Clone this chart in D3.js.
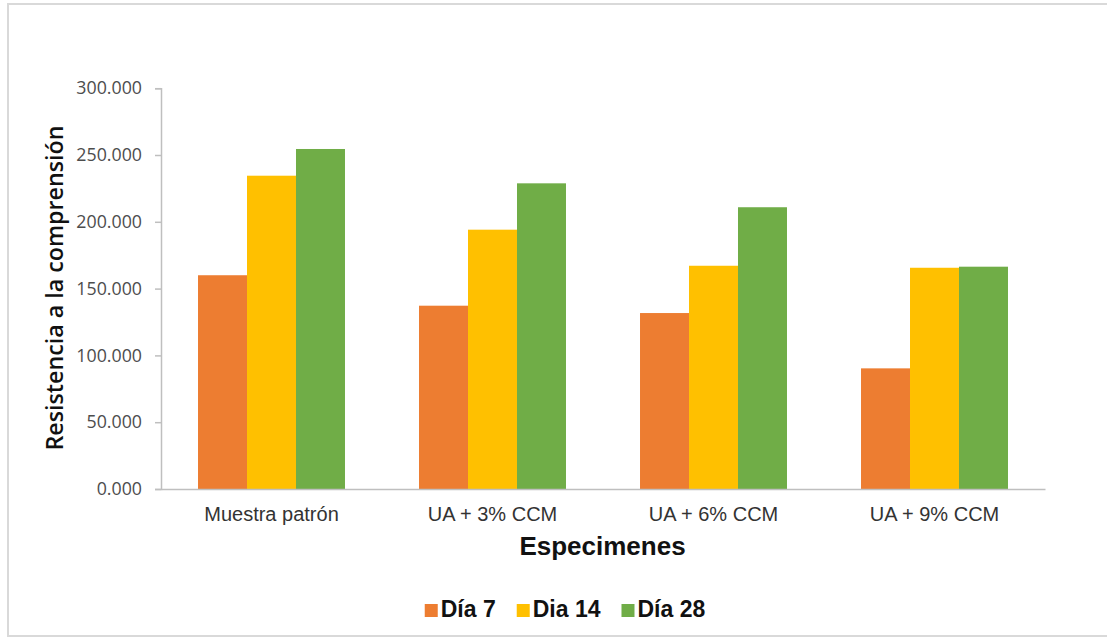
<!DOCTYPE html>
<html>
<head>
<meta charset="utf-8">
<script src="https://cdn.jsdelivr.net/npm/d3@7"></script>
<style>
  html, body { margin: 0; padding: 0; background: #fff; }
  svg { display: block; }
</style>
</head>
<body>
<svg id="chart" width="1107" height="638"></svg>
<script>
// Compressive strength by specimen type and curing age
const categories = ["Muestra patrón", "UA + 3% CCM", "UA + 6% CCM", "UA + 9% CCM"];
const seriesNames = ["Día 7", "Dia 14", "Día 28"];
const dia7  = [160.0, 137.2, 131.7, 90.3];
const dia14 = [234.5, 194.1, 167.1, 165.6];
const dia28 = [254.5, 228.8, 210.9, 166.4];
const seriesColors = ["#ED7D31", "#FFC000", "#70AD47"];
const yTicks = [0, 50, 100, 150, 200, 250, 300];

const seriesValues = [dia7, dia14, dia28];
const rows = categories.map((c, i) => ({
  category: c,
  values: seriesNames.map((s, j) => ({ series: s, value: seriesValues[j][i], color: seriesColors[j] }))
}));

const svg = d3.select("#chart");

// outer chart frame (open to the right)
svg.append("path")
  .attr("d", "M1107,4 H8 V636 H1107")
  .attr("fill", "none").attr("stroke", "#d9d9d9").attr("stroke-width", 2);

const plot = { left: 161, right: 1045, top: 88.2, bottom: 489 };

const x0 = d3.scaleBand()
  .domain(categories)
  .range([plot.left, plot.right])
  .paddingInner(0.335)
  .paddingOuter(0.1675);

const x1 = d3.scaleBand()
  .domain(seriesNames)
  .range([0, x0.bandwidth()]);

const y = d3.scaleLinear()
  .domain([0, 300])
  .range([plot.bottom, plot.top]);

const fmt = d3.format(".3f");

// y axis
const yAxis = svg.append("g")
  .attr("transform", `translate(${plot.left},0)`)
  .call(d3.axisLeft(y).tickValues(yTicks).tickSize(6).tickPadding(13).tickFormat(fmt));
yAxis.select(".domain").attr("stroke", "#bfbfbf").attr("stroke-width", 1.5);
yAxis.selectAll(".tick line").attr("stroke", "#bfbfbf").attr("stroke-width", 1.5);
yAxis.selectAll(".tick text")
  .attr("fill", "#4d4d4d")
  .style("font-family", "'Open Sans', sans-serif")
  .style("font-size", "17.8px");

// bars
const groups = svg.append("g").selectAll("g")
  .data(rows)
  .join("g")
  .attr("transform", d => `translate(${x0(d.category)},0)`);

groups.selectAll("rect")
  .data(d => d.values)
  .join("rect")
  .attr("x", d => x1(d.series))
  .attr("y", d => y(d.value))
  .attr("width", x1.bandwidth())
  .attr("height", d => y(0) - y(d.value))
  .attr("fill", d => d.color);

// x axis
const xAxis = svg.append("g")
  .attr("transform", `translate(0,${plot.bottom})`)
  .call(d3.axisBottom(x0).tickSize(0).tickPadding(18));
xAxis.select(".domain").attr("stroke", "#bfbfbf").attr("stroke-width", 1.5);
xAxis.selectAll(".tick text")
  .attr("fill", "#333")
  .style("font-family", "'Liberation Sans', Arial, sans-serif")
  .style("font-size", "20px");

// axis titles
svg.append("text")
  .attr("x", 602.5).attr("y", 555)
  .attr("text-anchor", "middle")
  .attr("fill", "#111")
  .style("font-family", "'Liberation Sans', Arial, sans-serif")
  .style("font-weight", "bold")
  .style("font-size", "26px")
  .text("Especimenes");

const yTitle = svg.append("text")
  .attr("transform", "translate(63,288) rotate(-90)")
  .attr("text-anchor", "middle")
  .attr("fill", "#111")
  .style("font-family", "'Open Sans', sans-serif")
  .style("font-weight", "600")
  .style("font-size", "20px")
  .text("Resistencia a la comprensión");
// scale the title font so it spans the axis height
const titleLen = yTitle.node().getComputedTextLength();
yTitle.style("font-size", (20 * 325 / titleLen).toFixed(2) + "px");

// legend
const legendGap = 21;
const legend = svg.append("g");
let lx = 0;
seriesNames.forEach((name, i) => {
  const item = legend.append("g").attr("transform", `translate(${lx},0)`);
  item.append("rect")
    .attr("x", 0).attr("y", -13)
    .attr("width", 13).attr("height", 13)
    .attr("fill", seriesColors[i]);
  const t = item.append("text")
    .attr("x", 16).attr("y", 0)
    .attr("fill", "#111")
    .style("font-family", "'Liberation Sans', Arial, sans-serif")
    .style("font-weight", "bold")
    .style("font-size", "23px")
    .text(name);
  lx += 16 + t.node().getComputedTextLength() + legendGap;
});
const legendWidth = lx - legendGap;
legend.attr("transform", `translate(${565 - legendWidth / 2},617)`);
</script>
</body>
</html>
